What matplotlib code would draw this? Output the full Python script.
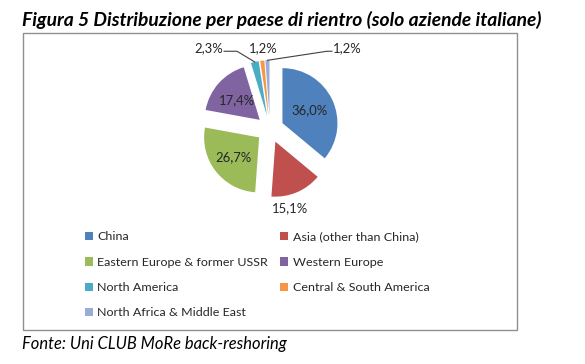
import numpy as np
import matplotlib
matplotlib.use("Agg")
import matplotlib.pyplot as plt
from matplotlib.patches import Rectangle, Patch

# ---- data ----
categories = ["China", "Asia (other than China)", "Eastern Europe & former USSR",
              "Western Europe", "North America", "Central & South America",
              "North Africa & Middle East"]
values = [36.0, 15.1, 26.7, 17.4, 2.3, 1.2, 1.2]
colors = ["#4F81BD", "#C0504D", "#9BBB59", "#8064A2", "#4BACC6", "#F79646", "#98AED6"]
title = "Figura 5 Distribuzione per paese di rientro (solo aziende italiane)"
source = "Fonte: Uni CLUB MoRe back-reshoring"

W, H = 585, 364
FONT = "Lato"
fig = plt.figure(figsize=(W / 100, H / 100), dpi=100)
fig.patch.set_facecolor("white")


def fx(px):
    return px / W


def fy(py):
    return 1 - py / H


renderer = fig.canvas.get_renderer()


def fit_size(txt, target_px, weight="normal", style="normal", start=10):
    t = fig.text(0, 0, txt, fontsize=start, family=FONT, weight=weight, style=style)
    w = t.get_window_extent(renderer).width
    t.remove()
    return start * target_px / w


# frame box
fig.patches.append(Rectangle((fx(23), fy(330)), fx(517) - fx(23), fy(33) - fy(330),
                             transform=fig.transFigure, fill=False,
                             edgecolor="#8F8F8F", linewidth=1.0))

# title and source
ts = fit_size(title, 520, weight="bold", style="italic")
fig.text(fx(22), fy(26), title, fontsize=ts, family=FONT, weight="bold",
         style="italic", ha="left", va="baseline", color="black")
ss = fit_size(source, 266, style="italic")
fig.text(fx(22), fy(349), source, fontsize=ss, family=FONT, style="italic",
         ha="left", va="baseline", color="black")

# pie axes: center (270,129) px, radius 55 px
R = 55.0
cx, cy = 270.0, 129.0
L = 2.0
ax = fig.add_axes([fx(cx - L * R), fy(cy + L * R), 2 * L * R / W, 2 * L * R / H])

explode = [0.25] * len(values)
wedges, _ = ax.pie(values, colors=colors, startangle=90, counterclock=False,
                   explode=explode, radius=1.0,
                   wedgeprops=dict(linewidth=0))
ax.set_xlim(-L, L)
ax.set_ylim(-L, L)
ax.set_aspect("equal")
ax.axis("off")

lab_fs = fit_size("36,0%", 36)
txtcol = "#262626"


def fmt(v):
    return f"{v:.1f}".replace(".", ",") + "%"


def to_data(px, py):
    return (px - cx) / R, (cy - py) / R


# inside labels for big slices
for i in [0, 2, 3]:
    w = wedges[i]
    mid = np.deg2rad((w.theta1 + w.theta2) / 2)
    c = w.center
    d = 0.6 if i == 2 else 0.55
    ax.text(c[0] + d * np.cos(mid), c[1] + d * np.sin(mid), fmt(values[i]),
            fontsize=lab_fs, family=FONT, ha="center", va="center", color=txtcol)

# Asia label outside below
w = wedges[1]
mid = np.deg2rad((w.theta1 + w.theta2) / 2 - 11)
c = w.center
ax.text(c[0] + 1.24 * np.cos(mid), c[1] + 1.24 * np.sin(mid), fmt(values[1]),
        fontsize=lab_fs, family=FONT, ha="center", va="center", color=txtcol)


def tip(i):
    w = wedges[i]
    mid = np.deg2rad((w.theta1 + w.theta2) / 2)
    c = w.center
    return c[0] + np.cos(mid), c[1] + np.sin(mid)


# small slice labels with leader lines
# North America (left)
tx, ty = to_data(223, 48.5)
kx, _ = to_data(237, 48.5)
px_, py_ = tip(4)
ax.plot([tx + 0.02, kx, px_], [ty - 0.05, ty - 0.05, py_], color="#404040", lw=0.8,
        clip_on=False)
ax.text(tx, ty, fmt(values[4]), fontsize=lab_fs, family=FONT, ha="right",
        va="center", color=txtcol, clip_on=False)
# Central & South America (middle)
tx, ty = to_data(263.5, 48.5)
ax.text(tx, ty, fmt(values[5]), fontsize=lab_fs, family=FONT, ha="center",
        va="center", color=txtcol, clip_on=False)
# North Africa (right)
tx, ty = to_data(333, 48.5)
kx, _ = to_data(327, 48.5)
px_, py_ = tip(6)
ax.plot([tx - 0.02, kx, px_], [ty - 0.05, ty - 0.05, py_], color="#404040", lw=0.8,
        clip_on=False)
ax.text(tx, ty, fmt(values[6]), fontsize=lab_fs, family=FONT, ha="left",
        va="center", color=txtcol, clip_on=False)

# legend (row-wise order, two columns)
leg_fs = fit_size("Eastern Europe & former USSR", 170)
order = [0, 2, 4, 6, 1, 3, 5]
handles = [Patch(facecolor=colors[i], edgecolor="none") for i in order]
labels = [categories[i] for i in order]
fig.legend(handles, labels, ncol=2, loc="upper left",
           bbox_to_anchor=(fx(85), fy(231.5)), frameon=False,
           prop=dict(family=FONT, size=leg_fs), handlelength=0.65,
           handleheight=0.65, handletextpad=0.35, labelspacing=1.15,
           columnspacing=0.95, borderaxespad=0, borderpad=0,
           labelcolor="#262626")

fig.savefig("out.png", dpi=100, facecolor="white")
